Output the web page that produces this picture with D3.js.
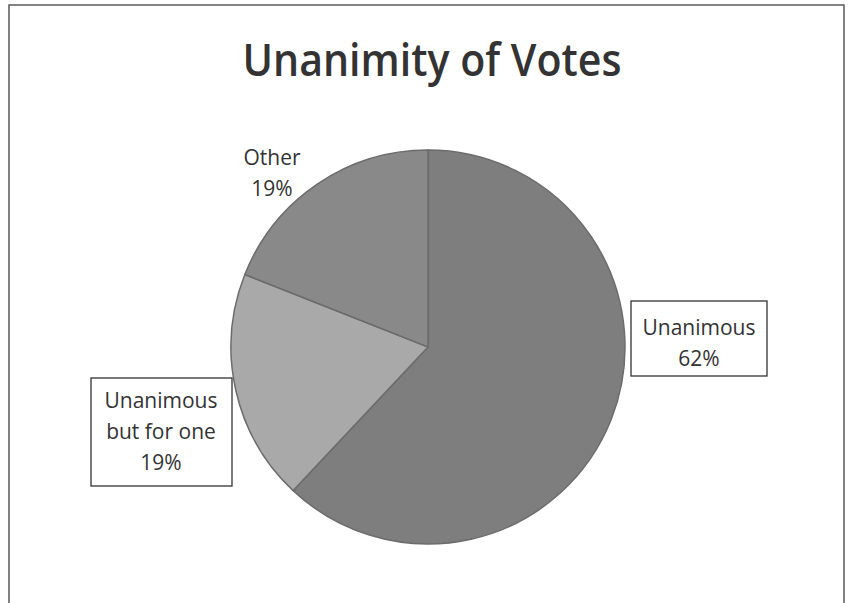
<!DOCTYPE html>
<html>
<head>
<meta charset="utf-8">
<script src="https://cdn.jsdelivr.net/npm/d3@7"></script>
<style>
  html, body { margin: 0; padding: 0; background: #fff; }
  svg { display: block; }
</style>
</head>
<body>
<div id="chart"></div>
<script>
// chart data
const categories = ["Unanimous", "Unanimous but for one", "Other"];
const values = [62, 19, 19];
const labelLines = [["Unanimous", "62%"], ["Unanimous", "but for one", "19%"], ["Other", "19%"]];

const width = 850;
const height = 603;

const svg = d3.select("#chart").append("svg")
  .attr("width", width)
  .attr("height", height);

// outer frame (bottom edge falls off the picture)
svg.append("rect")
  .attr("x", 9).attr("y", 5)
  .attr("width", 835).attr("height", 620)
  .attr("fill", "none")
  .attr("stroke", "#5a5a5a")
  .attr("stroke-width", 1.5);

// title
svg.append("text")
  .attr("x", 432).attr("y", 76)
  .attr("text-anchor", "middle")
  .attr("font-family", "'Open Sans', sans-serif")
  .attr("font-weight", 600)
  .attr("font-size", 45)
  .attr("fill", "#333")
  .attr("textLength", 379)
  .attr("lengthAdjust", "spacingAndGlyphs")
  .text("Unanimity of Votes");

const cx = 428, cy = 347, radius = 197;

const color = d3.scaleOrdinal()
  .domain(categories)
  .range(["#7e7e7e", "#a9a9a9", "#898989"]);

const pie = d3.pie().sort(null).value(d => d.value);
const arc = d3.arc().innerRadius(0).outerRadius(radius);

const arcs = pie(categories.map((c, i) => ({ name: c, value: values[i], lines: labelLines[i] })));

const g = svg.append("g").attr("transform", `translate(${cx},${cy})`);

g.selectAll("path")
  .data(arcs)
  .enter().append("path")
  .attr("d", arc)
  .attr("fill", d => color(d.data.name))
  .attr("stroke", "#6c6c6c")
  .attr("stroke-width", 1.5);

// label placement (offsets from pie centre, in px) and whether boxed
const labelPos = [
  { dx: 271, dy: -4, box: [-68, -42, 136, 75] },
  { dx: -267, dy: 85, box: [-70, -54, 141, 108] },
  { dx: -156, dy: -174, box: null }
];
const lineH = 31;

const labels = g.selectAll(".label")
  .data(arcs)
  .enter().append("g")
  .attr("class", "label")
  .attr("transform", (d, i) => `translate(${labelPos[i].dx},${labelPos[i].dy})`);

labels.each(function (d, i) {
  const sel = d3.select(this);
  const p = labelPos[i];
  if (p.box) {
    sel.append("rect")
      .attr("x", p.box[0]).attr("y", p.box[1])
      .attr("width", p.box[2]).attr("height", p.box[3])
      .attr("fill", "#fff")
      .attr("stroke", "#333")
      .attr("stroke-width", 1.3);
  }
  const n = d.data.lines.length;
  d.data.lines.forEach((t, k) => {
    sel.append("text")
      .attr("x", 0)
      .attr("y", (k - (n - 1) / 2) * lineH)
      .attr("dy", "0.35em")
      .attr("text-anchor", "middle")
      .attr("font-family", "'Open Sans', sans-serif")
      .attr("font-size", 21)
      .attr("fill", "#333")
      .text(t);
  });
});
</script>
</body>
</html>
